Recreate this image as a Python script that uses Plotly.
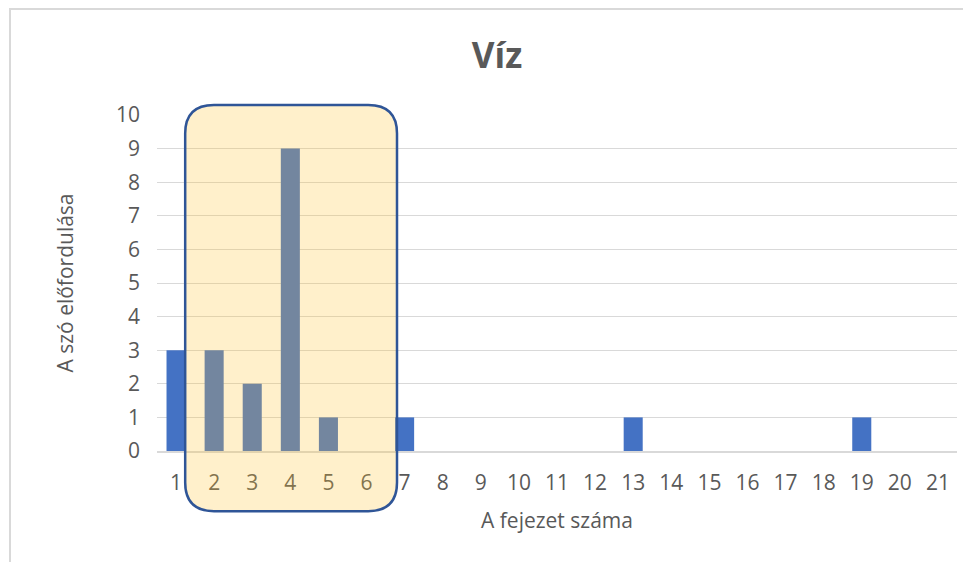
import plotly.graph_objects as go

chapters = [str(i) for i in range(1, 22)]
counts = [3, 3, 2, 9, 1, 0, 1, 0, 0, 0, 0, 0, 1, 0, 0, 0, 0, 0, 1, 0, 0]
y_ticks = list(range(0, 11))
highlight_first, highlight_last = 2, 6  # chapters enclosed by the highlight box

title_text = "Víz"
x_title = "A fejezet száma"
y_title = "A szó előfordulása"

FONT = "Open Sans, Lato, sans-serif"
TXT = "#595959"

fig = go.Figure()
fig.add_trace(go.Bar(
    x=chapters, y=counts,
    marker=dict(color="#4472C4", line=dict(width=0)),
    width=0.5,
    hoverinfo="x+y",
))

# axis ranges (categorical: index 0..20)
xr = [-0.5, len(chapters) - 0.5]
yr = [0, 10]

def xd(v):
    return (v - xr[0]) / (xr[1] - xr[0])

def yd(v):
    return (v - yr[0]) / (yr[1] - yr[0])

# highlight rounded rectangle in domain coordinates
x0 = xd(highlight_first - 1 - 0.76)
x1 = xd(highlight_last - 1 + 0.8)
y0 = yd(-1.79)
y1 = yd(10.3)
rx, ry = 0.036, 0.085
path = (f"M {x0+rx},{y1} L {x1-rx},{y1} Q {x1},{y1} {x1},{y1-ry} "
        f"L {x1},{y0+ry} Q {x1},{y0} {x1-rx},{y0} L {x0+rx},{y0} "
        f"Q {x0},{y0} {x0},{y0+ry} L {x0},{y1-ry} Q {x0},{y1} {x0+rx},{y1} Z")
fig.add_shape(type="path", path=path, xref="x domain", yref="y domain",
              fillcolor="rgba(255,195,47,0.25)",
              line=dict(color="#2F5597", width=2.5), layer="above")

# outer chart frame
fig.add_shape(type="rect", xref="paper", yref="paper",
              x0=(10 - 157) / 800, x1=1.2, y0=-0.5, y1=(451 - 9) / 336,
              line=dict(color="#D9D9D9", width=2), fillcolor="rgba(0,0,0,0)",
              layer="below")

# page body adds an 8px offset; compensate
OFF = 8
fig.update_layout(
    width=971 - OFF, height=562 - OFF,
    margin=dict(l=157 - OFF, r=14, t=115 - OFF, b=111),
    paper_bgcolor="white", plot_bgcolor="white",
    showlegend=False,
    title=dict(text=f"<b>{title_text}</b>", x=(497 - OFF) / (971 - OFF), xanchor="center",
               y=1 - (56 - OFF) / (562 - OFF), yanchor="middle",
               font=dict(family=FONT, size=35, color=TXT)),
    font=dict(family=FONT, size=21, color=TXT),
    bargap=0.5,
)
fig.update_xaxes(
    type="category", range=xr, showgrid=False,
    showline=True, linecolor="#D9D9D9", linewidth=1.5,
    ticks="", ticklabelstandoff=12,
    tickfont=dict(family=FONT, size=21, color=TXT),
    title=dict(text=x_title, font=dict(family=FONT, size=21, color=TXT), standoff=18),
    fixedrange=True,
)
fig.update_yaxes(
    range=yr, tickvals=y_ticks, showgrid=True, gridcolor="#D9D9D9", gridwidth=1,
    zeroline=False, showline=False, ticks="", ticklabelstandoff=16,
    tickfont=dict(family=FONT, size=21, color=TXT),
    title=dict(text=y_title, font=dict(family=FONT, size=21, color=TXT), standoff=36),
    fixedrange=True,
)

fig.write_html("out.html")
